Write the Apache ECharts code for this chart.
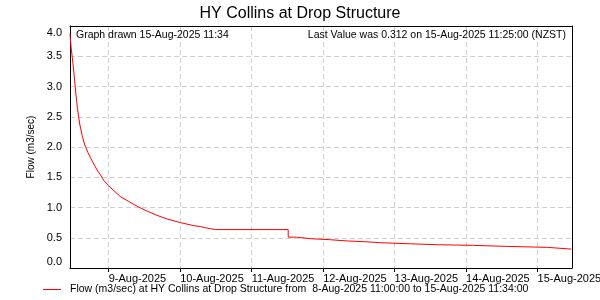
<!DOCTYPE html>
<html>
<head>
<meta charset="utf-8">
<script src="https://cdn.jsdelivr.net/npm/echarts@6/dist/echarts.min.js"></script>
<style>html,body{margin:0;padding:0;background:#fff}#c{width:600px;height:300px}</style>
</head>
<body>
<div id="c"></div>
<script>
const chartTitle = 'HY Collins at Drop Structure';
const yAxisName = 'Flow (m3/sec)';
const seriesName = 'Flow (m3/sec) at HY Collins at Drop Structure from  8-Aug-2025 11:00:00 to 15-Aug-2025 11:34:00';
const drawnNote = 'Graph drawn 15-Aug-2025 11:34';
const lastNote = 'Last Value was 0.312 on 15-Aug-2025 11:25:00 (NZST)';
const xStart = '2025-08-08 11:00';
const xEnd = '2025-08-15 11:34';
const yTicks = [0, 0.5, 1.0, 1.5, 2.0, 2.5, 3.0, 3.5, 4.0];
const monthNames = ['Jan','Feb','Mar','Apr','May','Jun','Jul','Aug','Sep','Oct','Nov','Dec'];

const times = [
  '2025-08-08 11:00','2025-08-08 11:25','2025-08-08 11:48','2025-08-08 12:23','2025-08-08 12:55',
  '2025-08-08 13:29','2025-08-08 14:16','2025-08-08 15:10','2025-08-08 16:00','2025-08-08 17:00',
  '2025-08-08 18:00','2025-08-08 18:58','2025-08-08 20:06','2025-08-08 21:13','2025-08-08 22:19','2025-08-09 00:00',
  '2025-08-09 01:41','2025-08-09 03:56','2025-08-09 06:43','2025-08-09 09:32','2025-08-09 12:54',
  '2025-08-09 16:15','2025-08-09 19:37','2025-08-10 00:05','2025-08-10 04:33','2025-08-10 06:48',
  '2025-08-10 08:29','2025-08-10 10:10','2025-08-10 11:51','2025-08-11 12:16','2025-08-11 12:17',
  '2025-08-11 15:03','2025-08-11 15:03','2025-08-11 19:48','2025-08-11 19:48',
  '2025-08-12 02:30','2025-08-12 02:30','2025-08-12 08:05','2025-08-12 08:05',
  '2025-08-12 14:13','2025-08-12 14:13','2025-08-12 19:16','2025-08-12 19:16',
  '2025-08-13 05:20','2025-08-13 05:20','2025-08-13 14:25','2025-08-13 14:25',
  '2025-08-14 02:10','2025-08-14 02:10','2025-08-14 13:50','2025-08-14 13:50',
  '2025-08-15 03:16','2025-08-15 03:16','2025-08-15 11:25'
];
const flows = [
  3.87, 3.62, 3.47, 3.19, 2.91,
  2.64, 2.38, 2.17, 2.03, 1.91,
  1.81, 1.72, 1.62, 1.54, 1.45, 1.36,
  1.28, 1.18, 1.10, 1.02, 0.94,
  0.87, 0.81, 0.75, 0.70, 0.685,
  0.665, 0.65, 0.635, 0.635, 0.51,
  0.51, 0.484, 0.484, 0.467,
  0.467, 0.447, 0.447, 0.434,
  0.434, 0.418, 0.418, 0.40,
  0.40, 0.385, 0.385, 0.374,
  0.374, 0.357, 0.357, 0.341,
  0.341, 0.315, 0.312
];

const data = times.map((t, i) => [t, flows[i]]);
const FONT = 'Liberation Sans';
const GRID_COLOR = '#cfcfcf';

const chart = echarts.init(document.getElementById('c'), null, {renderer: 'canvas'});
chart.setOption({
  animation: false,
  backgroundColor: '#fff',
  title: {
    text: chartTitle, left: 'center', top: 1,
    textStyle: {fontFamily: FONT, fontSize: 16, fontWeight: 'normal', color: '#000'}
  },
  legend: {
    left: 43, top: 284, padding: 0, icon: 'rect', itemWidth: 18, itemHeight: 1,
    textStyle: {fontFamily: FONT, fontSize: 10.5, color: '#000', padding: [0, 0, 0, 4]},
    data: [seriesName]
  },
  grid: {left: 70, right: 28, top: 26, bottom: 32, show: false, containLabel: false, outerBoundsMode: 'none'},
  xAxis: [{
    type: 'time', min: xStart, max: xEnd,
    minInterval: 86400000, maxInterval: 86400000,
    axisLine: {show: true, lineStyle: {color: '#000', width: 1}},
    axisTick: {show: true, length: 4, lineStyle: {color: '#000'}},
    splitLine: {show: true, lineStyle: {color: GRID_COLOR, type: [5, 3], width: 1}},
    axisLabel: {
      margin: 5, align: 'left', color: '#000', fontFamily: FONT, fontSize: 11,
      showMinLabel: false, showMaxLabel: false, hideOverlap: false,
      formatter: function (v) {
        const d = new Date(v);
        return d.getDate() + '-' + monthNames[d.getMonth()] + '-' + d.getFullYear();
      }
    }
  }, {
    type: 'time', min: xStart, max: xEnd, position: 'top',
    axisLine: {show: true, onZero: false, lineStyle: {color: '#000', width: 1}},
    axisTick: {show: false}, axisLabel: {show: false}, splitLine: {show: false}
  }],
  yAxis: [{
    type: 'value', min: yTicks[0], max: yTicks[yTicks.length - 1], interval: 0.5,
    name: yAxisName, nameLocation: 'middle', nameGap: 29,
    nameTextStyle: {fontFamily: FONT, fontSize: 10, color: '#000'},
    axisLine: {show: true, lineStyle: {color: '#000'}},
    axisTick: {show: false},
    splitLine: {show: true, lineStyle: {color: GRID_COLOR, type: [5, 3], width: 1}},
    axisLabel: {
      margin: 8, color: '#000', fontFamily: FONT, fontSize: 11,
      formatter: function (v) {
        const s = v.toFixed(1);
        if (v === yTicks[yTicks.length - 1]) return '{top|' + s + '}';
        if (v === yTicks[0]) return '{bot|' + s + '}';
        return s;
      },
      rich: {
        top: {fontFamily: FONT, fontSize: 11, color: '#000', padding: [14, 0, 0, 0]},
        bot: {fontFamily: FONT, fontSize: 11, color: '#000', padding: [0, 0, 12, 0]}
      }
    }
  }, {
    type: 'value', min: yTicks[0], max: yTicks[yTicks.length - 1], position: 'right',
    axisLine: {show: true, onZero: false, lineStyle: {color: '#000'}},
    axisTick: {show: false}, axisLabel: {show: false}, splitLine: {show: false}
  }],
  graphic: [
    {type: 'text', left: 76, top: 30, z: 10, style: {text: drawnNote, font: '10.5px "Liberation Sans"', fill: '#000'}},
    {type: 'text', right: 34, top: 30, z: 10, style: {text: lastNote, font: '10.5px "Liberation Sans"', fill: '#000'}}
  ],
  series: [{
    name: seriesName, type: 'line', data: data, showSymbol: false, symbol: 'none',
    xAxisIndex: 0, yAxisIndex: 0,
    lineStyle: {color: '#ff0000', width: 1}, itemStyle: {color: '#ff0000'}
  }]
});
</script>
</body>
</html>
